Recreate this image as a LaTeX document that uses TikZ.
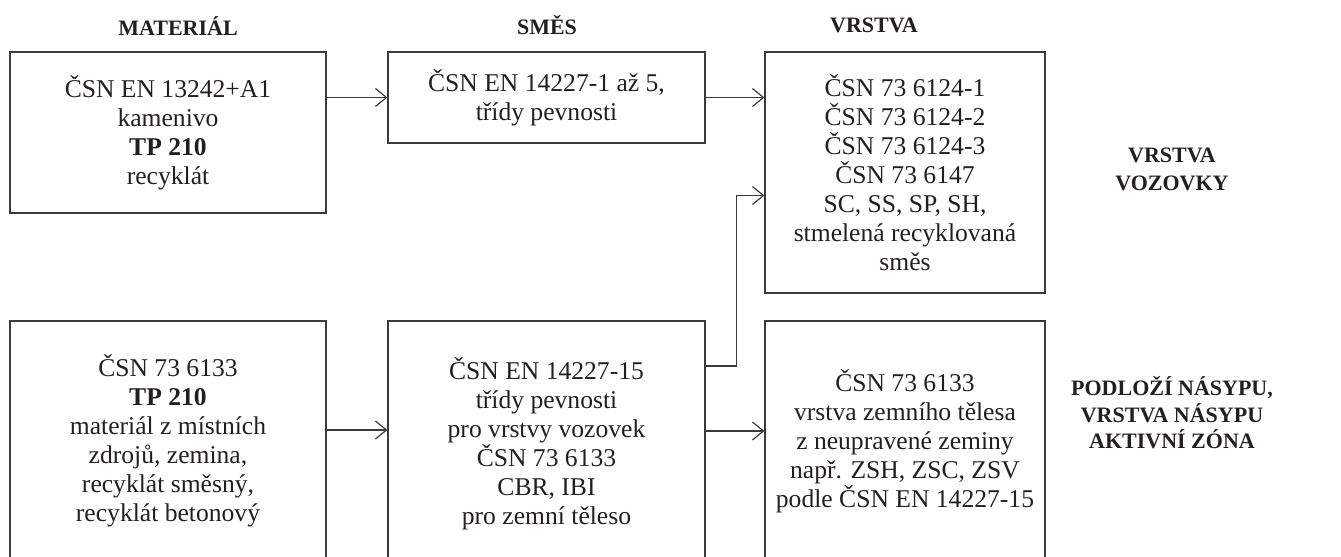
\documentclass[tikz,border=0pt]{standalone}
\usepackage{fontspec}
\setmainfont{Liberation Serif}
\usetikzlibrary{arrows.meta}
\definecolor{ink}{HTML}{231F20}
\definecolor{edge}{HTML}{3A3A3A}
\begin{document}
\begin{tikzpicture}[x=0.5pt,y=-0.5pt,
  box/.style={draw=edge, line width=0.6pt, align=center, inner sep=0pt,
    font=\fontsize{12.8}{14.5}\selectfont, text=ink},
  head/.style={font=\fontsize{11}{14}\selectfont\bfseries, text=ink, align=center, inner sep=0pt},
  arr/.style={draw=edge, line width=0.6pt, -{Straight Barb[length=5.5pt,width=9pt]}}]
\useasboundingbox (0,0) rectangle (1341,557);
\clip (0,0) rectangle (1341,557);
% headers
\node[head] (hm) at (178,26) {MATERIÁL};
\node[head] (hs) at (547,25) {SMĚS};
\node[head] (hv) at (874,25) {VRSTVA};
\node[head] (rv) at (1172,169) {VRSTVA\\VOZOVKY};
\node[head, font=\fontsize{11}{13.3}\selectfont\bfseries] (rp) at (1172,413) {PODLOŽÍ NÁSYPU,\\VRSTVA NÁSYPU\\AKTIVNÍ ZÓNA};
% top row
\node[box, minimum width=158pt, minimum height=80.5pt] (A1) at (168,132.5)
  {ČSN EN 13242+A1\\kamenivo\\\textbf{TP 210}\\recyklát};
\node[box, minimum width=158.5pt, minimum height=45.5pt] (B1) at (546.5,97.5)
  {ČSN EN 14227-1 až 5,\\třídy pevnosti};
\node[box, minimum width=140pt, minimum height=120.5pt] (C1) at (905,172.5)
  {ČSN 73 6124-1\\ČSN 73 6124-2\\ČSN 73 6124-3\\ČSN 73 6147\\SC, SS, SP, SH,\\stmelená recyklovaná\\směs};
% bottom row
\node[box, minimum width=158pt, minimum height=120pt] (A2) at (168,441)
  {ČSN 73 6133\\\textbf{TP 210}\\materiál z místních\\zdrojů, zemina,\\recyklát směsný,\\recyklát betonový};
\node[box, minimum width=158.5pt, minimum height=120pt, text depth=0pt] (B2) at (546.5,441)
  {ČSN EN 14227-15\\třídy pevnosti\\pro vrstvy vozovek\\ČSN 73 6133\\CBR, IBI\\pro zemní těleso};
\node[box, minimum width=140pt, minimum height=120pt] (C2) at (905,441)
  {ČSN 73 6133\\vrstva zemního tělesa\\z neupravené zeminy\\např. ZSH, ZSC, ZSV\\podle ČSN EN 14227-15};
% connectors
\draw[arr] (A1.east |- B1.west) -- (B1.west);
\draw[arr] (B1.east) -- (B1.east -| C1.west);
\draw[arr] ([yshift=5.5pt]A2.east) -- ([yshift=5.5pt]B2.west);
\draw[arr] ([yshift=5pt]B2.east) -- ([yshift=5pt]C2.west);
\draw[arr] ([yshift=37.5pt]B2.east) -- ++(31,0) |- ([yshift=-11.5pt]C1.west);
\end{tikzpicture}
\end{document}
